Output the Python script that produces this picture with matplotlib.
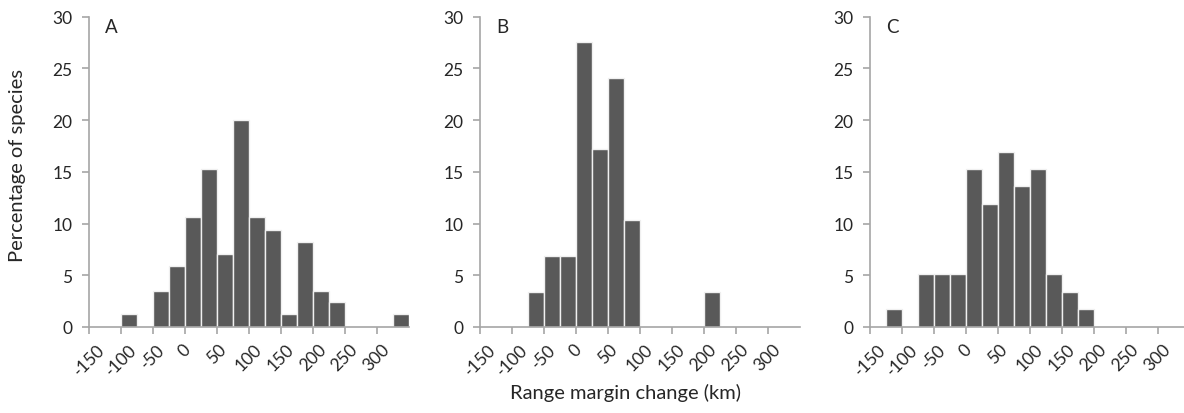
import numpy as np
import matplotlib.pyplot as plt

# left edge of each 25 km bin
bin_left = [-150, -125, -100, -75, -50, -25, 0, 25, 50, 75,
            100, 125, 150, 175, 200, 225, 250, 275, 300, 325]

# percentage of species per bin
pct_a = [0, 0, 1.2, 0, 3.5, 5.9, 10.6, 15.3, 7.1, 20.0,
         10.6, 9.4, 1.2, 8.2, 3.5, 2.4, 0, 0, 0, 1.2]
pct_b = [0, 0, 0, 3.4, 6.9, 6.9, 27.6, 17.2, 24.1, 10.3,
         0, 0, 0, 0, 3.4, 0, 0, 0, 0, 0]
pct_c = [0, 1.7, 0, 5.1, 5.1, 5.1, 15.3, 11.9, 16.9, 13.6,
         15.3, 5.1, 3.4, 1.7, 0, 0, 0, 0, 0, 0]

panel_labels = ['A', 'B', 'C']
x_ticks = [-150, -100, -50, 0, 50, 100, 150, 200, 250, 300]
y_ticks = [0, 5, 10, 15, 20, 25, 30]

plt.rcParams['font.family'] = ['Lato', 'DejaVu Sans']

fig = plt.figure(figsize=(11.84, 4.14), dpi=100)
lefts = [0.0752, 0.4054, 0.7348]
axis_grey = '#a6a6a6'
text_col = '#262626'

for left, vals, lab in zip(lefts, [pct_a, pct_b, pct_c], panel_labels):
    ax = fig.add_axes([left, 0.208, 0.27, 0.749])
    xs = [x for x, v in zip(bin_left, vals) if v > 0]
    hs = [v for v in vals if v > 0]
    ax.bar(xs, hs, width=25, align='edge', color='#595959',
           edgecolor='#f0f0f0', linewidth=1.0, zorder=1)
    ax.set_xlim(-150, 350)
    ax.set_ylim(0, 30)
    ax.set_xticks(x_ticks)
    ax.set_xticklabels([str(t) for t in x_ticks], rotation=45, ha='center',
                       fontsize=12.5, color=text_col)
    ax.set_yticks(y_ticks)
    ax.set_yticklabels([str(t) for t in y_ticks], fontsize=12.5, color=text_col)
    for s in ['top', 'right']:
        ax.spines[s].set_visible(False)
    for s in ['left', 'bottom']:
        ax.spines[s].set_color(axis_grey)
        ax.spines[s].set_linewidth(1.2)
    ax.tick_params(axis='both', color=axis_grey, length=5, width=1.2,
                   direction='out')
    ax.tick_params(axis='x', pad=5)
    ax.tick_params(axis='y', pad=7)
    ax.text(0.05, 0.995, lab, transform=ax.transAxes, fontsize=13.5,
            color=text_col, va='top', ha='left')

fig.text(0.528, 0.05, 'Range margin change (km)', ha='center', va='center',
         fontsize=14.5, color=text_col)
fig.text(0.015, 0.6, 'Percentage of species', ha='center', va='center',
         rotation=90, fontsize=14.5, color=text_col)

fig.savefig('out.png', dpi=100, facecolor='white')
